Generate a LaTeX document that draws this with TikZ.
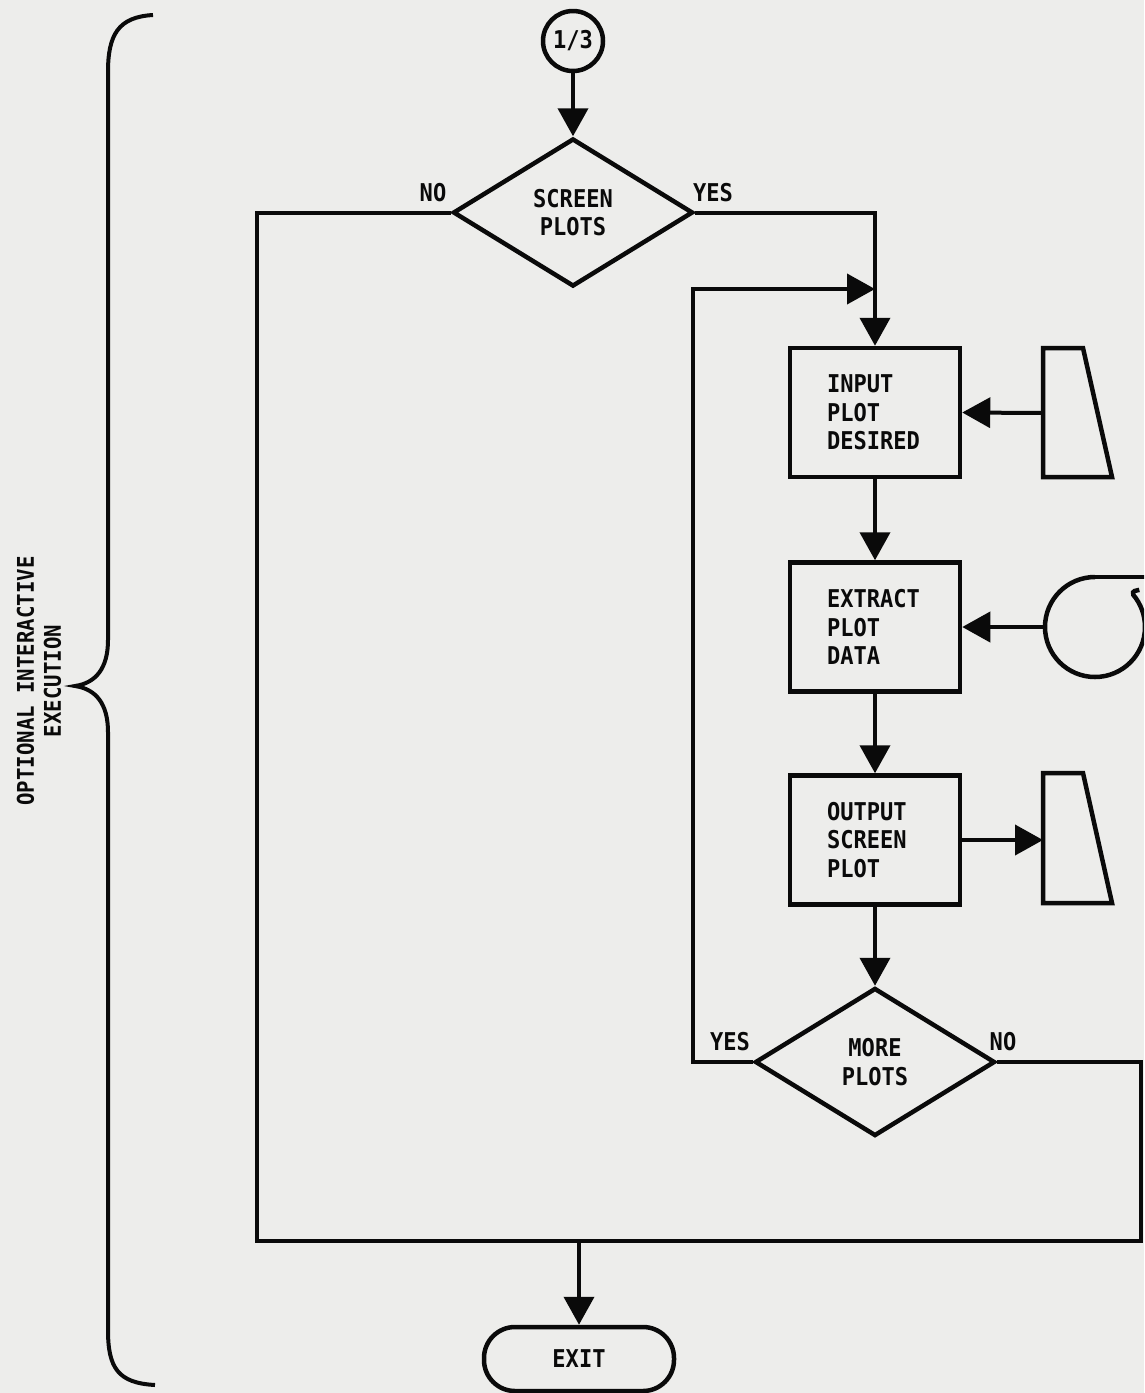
\documentclass[tikz,border=0pt]{standalone}
\usepackage{fontspec}
\setmonofont{DejaVu Sans Mono}[FakeStretch=0.9]
\usetikzlibrary{shapes.geometric,arrows.meta}
\definecolor{bgc}{RGB}{237,237,235}
\definecolor{ink}{RGB}{10,10,10}
\tikzset{
  every node/.style={font=\ttfamily\bfseries\fontsize{24.5}{28.5}\selectfont, text=ink},
  shp/.style={draw=ink, line width=4.5pt},
  procbox/.style={shp, rectangle, minimum width=170pt, minimum height=129pt, text width=96pt, align=left, inner sep=0pt},
  decision/.style={shp, diamond, aspect=1.62, minimum width=240pt, minimum height=148pt, inner sep=0pt, align=center},
  conn/.style={draw=ink, line width=4pt, line join=miter},
  arr/.style={conn, -{Triangle[length=28pt,width=30pt]}},
  lbl/.style={inner sep=0pt},
}
\begin{document}
\begin{tikzpicture}[x=1pt,y=1pt]
\useasboundingbox (0,0) rectangle (1144,-1393);
\fill[bgc] (0,0) rectangle (1144,-1393);
\clip (0,0) rectangle (1144,-1393);

% nodes
\node[shp, circle, minimum size=60pt, inner sep=0pt] (c13) at (573,-41) {1/3};
\node[decision] (screen) at (573,-212.5) {SCREEN\\PLOTS};
\node[procbox] (input) at (875,-412.5) {INPUT\\PLOT\\DESIRED};
\node[procbox] (extract) at (875,-627) {EXTRACT\\PLOT\\DATA};
\node[procbox] (output) at (875,-840) {OUTPUT\\SCREEN\\PLOT};
\node[decision] (more) at (875,-1062) {MORE\\PLOTS};
\node[shp, rectangle, rounded corners=31pt, minimum width=190pt, minimum height=64pt] (exit) at (579,-1359) {EXIT};

% labels
\node[lbl] (lno1) at (433,-193) {NO};
\node[lbl] (lyes1) at (713,-193) {YES};
\node[lbl] (lyes2) at (730,-1042) {YES};
\node[lbl] (lno2) at (1003,-1042) {NO};

% manual input (top) and display (bottom) trapezoids
\draw[shp, line join=miter] (1043,-348) -- (1083,-348) -- (1112,-477) -- (1043,-477) -- cycle;
\coordinate (man1) at (1043,-413);
\draw[shp, line join=miter] (1043,-773) -- (1083,-773) -- (1112,-903) -- (1043,-903) -- cycle;
\coordinate (disp) at (1043,-840);

% magnetic tape
\coordinate (tapec) at (1095,-627);
\draw[shp] (1095,-577) arc[start angle=90, end angle=400, radius=50pt]
   .. controls +(110:5) and +(200:3) .. ++(6,5);
\draw[shp] (1095,-577) -- (1146,-577);
\coordinate (tape) at (1045,-627);

% junction coordinates
\coordinate (yesR) at (875,-212.5);
\coordinate (loopL) at (693,-1062);
\coordinate (loopT) at (875,-289);
\coordinate (rightE) at (1141,-1062);
\coordinate (botR) at (1141,-1241);
\coordinate (botL) at (257,-1241);
\coordinate (jn) at (579,-1241);

% connectors
\draw[arr] (c13) -- (screen.north);
\draw[arr] (screen.east) -- (yesR) -- (input.north);
\draw[arr] (more.west) -- (loopL) |- (loopT);
\draw[arr] (man1) -- (input.east);
\draw[arr] (input.south) -- (extract.north);
\draw[arr] (tape) -- (extract.east);
\draw[arr] (extract.south) -- (output.north);
\draw[arr] (output.east) -- (disp);
\draw[arr] (output.south) -- (more.north);
\draw[conn] (more.east) -- (rightE) -- (botR) -- (botL) |- (screen.west);
\draw[arr] (jn) -- (exit.north);

% brace
\draw[draw=ink, line width=4pt]
  (153,-15) .. controls (118,-17) and (108,-35) .. (108,-72)
  -- (108,-640) .. controls (108,-668) and (96,-683) .. (75,-686)
  .. controls (96,-689) and (108,-704) .. (108,-732)
  -- (108,-1330) .. controls (108,-1368) and (118,-1383) .. (155,-1385);
\node[rotate=90, align=center, inner sep=0pt, font=\ttfamily\bfseries\fontsize{23}{27}\selectfont] (brlabel) at (39,-681) {OPTIONAL INTERACTIVE\\EXECUTION};
\end{tikzpicture}
\end{document}
